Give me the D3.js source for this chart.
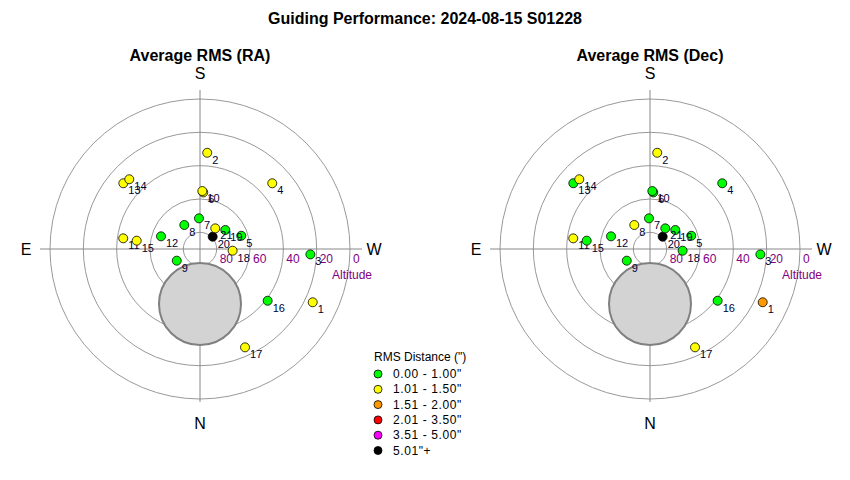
<!DOCTYPE html>
<html>
<head>
<meta charset="utf-8">
<script src="https://cdn.jsdelivr.net/npm/d3@7"></script>
<style>
  body { margin: 0; background: #fff; }
  text { font-family: "Liberation Sans", Arial, sans-serif; }
</style>
</head>
<body>
<div id="chart"></div>
<script>
// guiding targets: number, altitude (deg), azimuth (deg, N=0, E=90)
const targetIds = [1, 2, 3, 4, 5, 6, 7, 8, 9, 10, 11, 12, 13, 14, 15, 16, 17, 18, 19, 20, 21];
const altitudes = [15.2, 32.1, 23.7, 31.4, 64.0, 56.0, 71.6, 72.8, 74.4, 55.2, 43.5, 65.4, 29.4, 30.4, 51.7, 38.9, 25.1, 70.4, 71.0, 79.4, 74.6];
const azimuths = [295.3, 184.3, 272.8, 227.7, 252.2, 183.3, 178.1, 146.8, 63.3, 182.3, 97.9, 108.0, 130.6, 134.6, 97.5, 307.4, 335.4, 273.0, 233.1, 225.9, 216.5];
// average rms in arcsec
const rmsRA  = [1.25, 1.20, 0.85, 1.15, 0.80, 1.10, 0.90, 0.95, 0.85, 1.10, 1.30, 0.90, 1.20, 1.25, 1.10, 0.90, 1.20, 1.05, 0.90, 6.20, 1.05];
const rmsDec = [1.70, 1.15, 0.80, 0.90, 0.70, 0.85, 0.80, 1.10, 0.75, 0.85, 1.20, 0.85, 0.95, 1.10, 0.90, 0.80, 1.25, 0.90, 0.80, 5.80, 0.90];

// legend classes
const rmsBreaks = [1.005, 1.505, 2.005, 3.505, 5.005];
const rmsColors = ["#00ff00", "#ffff00", "#ff9900", "#ff0000", "#ff00ff", "#000000"];
const rmsLabels = ["0.00 - 1.00\"", "1.01 - 1.50\"", "1.51 - 2.00\"", "2.01 - 3.50\"", "3.51 - 5.00\"", "5.01\"+"];

// altitude rings
const altTicks = [80, 60, 40, 20, 0];
const compass = [{ t: "N", az: 0 }, { t: "E", az: 90 }, { t: "S", az: 180 }, { t: "W", az: 270 }];

// moon / obstruction disc
const moonAlt = 57, moonAz = 0, moonSize = 24.6;

const W = 850, H = 480;
const R = 150;

const svg = d3.select("#chart").append("svg")
	.attr("width", W)
	.attr("height", H);

svg.append("text")
	.attr("x", 425).attr("y", 24)
	.attr("text-anchor", "middle")
	.attr("font-size", 16).attr("font-weight", "bold")
	.text("Guiding Performance: 2024-08-15 S01228");

const rScale = d3.scaleLinear().domain([90, 0]).range([0, R]);
const colorScale = d3.scaleThreshold().domain(rmsBreaks).range(rmsColors);

const targets = targetIds.map((id, i) => ({
	id: id, alt: altitudes[i], az: azimuths[i], ra: rmsRA[i], dec: rmsDec[i]
}));

function project(alt, az) {
	const r = rScale(alt), a = az * Math.PI / 180;
	return [-r * Math.sin(a), r * Math.cos(a)];
}

function drawPolar(cx, cy, title, key) {
	const g = svg.append("g").attr("transform", "translate(" + cx + "," + cy + ")");

	svg.append("text")
		.attr("x", cx).attr("y", 61)
		.attr("text-anchor", "middle")
		.attr("font-size", 16).attr("font-weight", "bold")
		.text(title);

	// rings
	g.selectAll(".ring")
		.data(altTicks)
		.enter().append("circle")
		.attr("r", d => rScale(d))
		.attr("fill", "none")
		.attr("stroke", "#999")
		.attr("stroke-width", 1);

	// cross hair
	g.append("line").attr("x1", -160).attr("x2", 162).attr("y1", 0).attr("y2", 0)
		.attr("stroke", "#888");
	g.append("line").attr("x1", 0).attr("x2", 0).attr("y1", -159).attr("y2", 153)
		.attr("stroke", "#888");

	// moon
	const mp = project(moonAlt, moonAz);
	g.append("circle")
		.attr("cx", mp[0]).attr("cy", mp[1])
		.attr("r", rScale(90 - moonSize))
		.attr("fill", "#d3d3d3")
		.attr("stroke", "#808080")
		.attr("stroke-width", 2);

	// altitude labels
	g.selectAll(".alt")
		.data(altTicks)
		.enter().append("text")
		.attr("x", d => rScale(d) + 3)
		.attr("y", 14)
		.attr("font-size", 12)
		.attr("fill", "#800080")
		.text(d => d);
	g.append("text")
		.attr("x", 152).attr("y", 30)
		.attr("text-anchor", "middle")
		.attr("font-size", 12)
		.attr("fill", "#800080")
		.text("Altitude");

	// compass
	const dirPos = { N: [0, 180], E: [-174, 6], S: [0, -170], W: [174, 6] };
	g.selectAll(".dir")
		.data(compass)
		.enter().append("text")
		.attr("x", d => dirPos[d.t][0])
		.attr("y", d => dirPos[d.t][1])
		.attr("text-anchor", "middle")
		.attr("font-size", 16)
		.text(d => d.t);

	// points
	const pts = g.selectAll(".pt")
		.data(targets)
		.enter().append("g")
		.attr("transform", d => "translate(" + project(d.alt, d.az) + ")");
	pts.append("circle")
		.attr("r", 4.5)
		.attr("fill", d => colorScale(d[key]))
		.attr("stroke", "#000")
		.attr("stroke-width", 0.8);
	pts.append("text")
		.attr("x", 5)
		.attr("y", 11)
		.attr("font-size", 11)
		.attr("fill", "#000033")
		.text(d => d.id);
}

drawPolar(200, 249, "Average RMS (RA)", "ra");
drawPolar(650, 249, "Average RMS (Dec)", "dec");

// legend
const legend = svg.append("g").attr("transform", "translate(374,357)");
legend.append("text")
	.attr("x", 0).attr("y", 4)
	.attr("font-size", 12)
	.text("RMS Distance (\")");
const rows = legend.selectAll(".row")
	.data(rmsLabels)
	.enter().append("g")
	.attr("transform", (d, i) => "translate(0," + (17 + i * 15.3) + ")");
rows.append("circle")
	.attr("cx", 4).attr("cy", 0).attr("r", 4)
	.attr("fill", (d, i) => rmsColors[i])
	.attr("stroke", "#000")
	.attr("stroke-width", 0.8);
rows.append("text")
	.attr("x", 19).attr("y", 4)
	.attr("font-size", 12)
	.attr("letter-spacing", 0.6)
	.attr("xml:space", "preserve")
	.text(d => d);
</script>
</body>
</html>
